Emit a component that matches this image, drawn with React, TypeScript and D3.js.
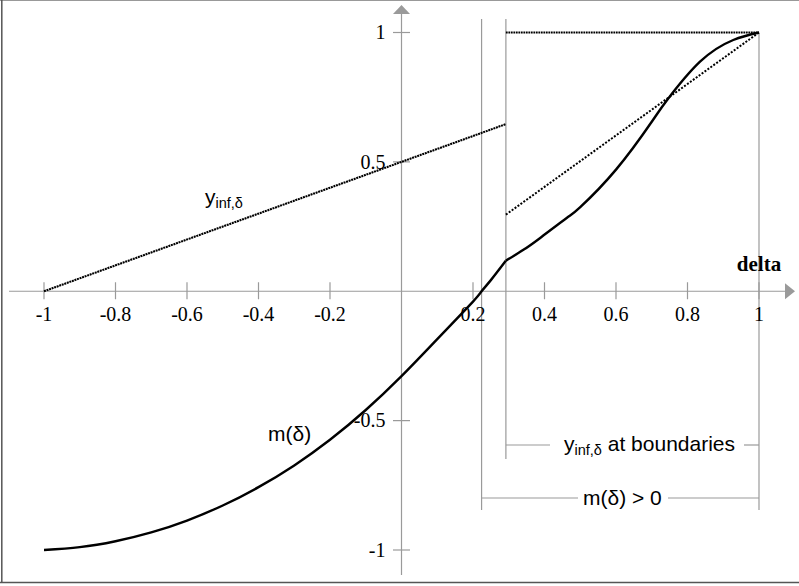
import React from "react";
import * as d3 from "d3";

// m(delta) curve, left part (up to the boundary kink) and right part
const mLeftDelta = [-1, -0.9, -0.8, -0.7, -0.6, -0.5, -0.4, -0.3, -0.2, -0.1, 0, 0.1, 0.2, 0.224, 0.25, 0.292];
const mLeftValue = [-1, -0.989, -0.966, -0.932, -0.886, -0.828, -0.757, -0.673, -0.574, -0.459, -0.328, -0.185, -0.04, 0, 0.043, 0.118];
const mRightDelta = [0.292, 0.341, 0.387, 0.462, 0.5, 0.6, 0.7, 0.742, 0.835, 0.928, 1];
const mRightValue = [0.118, 0.16, 0.205, 0.283, 0.325, 0.47, 0.655, 0.737, 0.887, 0.971, 1];

// y_inf,delta segments
const yInfLeftDelta = [-1, 0.292];
const yInfLeftValue = [0, 0.646];
const yInfRightDelta = [0.292, 1];
const yInfRightValue = [0.296, 1];
const yInfTopDelta = [0.292, 1];
const yInfTopValue = [1, 1];

// axes
const xTickValues = [-1, -0.8, -0.6, -0.4, -0.2, 0.2, 0.4, 0.6, 0.8, 1];
const xTickLabels = ["-1", "-0.8", "-0.6", "-0.4", "-0.2", "0.2", "0.4", "0.6", "0.8", "1"];
const yTickValues = [-1, -0.5, 0.5, 1];
const yTickLabels = ["-1", "-0.5", "0.5", "1"];

// special deltas
const mZeroDelta = 0.224;
const boundaryDelta = 0.292;
const endDelta = 1;

const W = 799;
const H = 586;
const AXIS = "#9a9a9a";
const SERIF = "'Liberation Serif', 'Times New Roman', serif";
const SANS = "'Liberation Sans', Arial, sans-serif";

export default function App() {
  const x = d3.scaleLinear().domain([-1, 1]).range([44, 759]);
  const y = d3.scaleLinear().domain([-1, 1]).range([550, 32.5]);
  const x0 = x(0);
  const y0 = y(0);

  const line = d3
    .line<[number, number]>()
    .x((d) => x(d[0]))
    .y((d) => y(d[1]))
    .curve(d3.curveNatural);
  const straight = d3
    .line<[number, number]>()
    .x((d) => x(d[0]))
    .y((d) => y(d[1]));

  const zip = (a: number[], b: number[]) => a.map((v, i) => [v, b[i]] as [number, number]);

  const xm = x(mZeroDelta);
  const xb = x(boundaryDelta);
  const xe = x(endDelta);

  const yBracket1 = 445;
  const yBracket2 = 498;

  return (
    <svg
      width={W}
      height={H}
      style={{ position: "absolute", left: 0, top: 0, background: "#fff" }}
    >
      {/* frame */}
      <line x1={0} x2={W} y1={0.5} y2={0.5} stroke="#999" strokeWidth={1} />
      <line x1={1.8} x2={1.8} y1={0} y2={583} stroke="#555" strokeWidth={1.5} />
      <line x1={0} x2={W} y1={582.5} y2={582.5} stroke="#555" strokeWidth={1.5} />

      {/* guide verticals */}
      <line x1={xm} x2={xm} y1={19} y2={510} stroke={AXIS} strokeWidth={1.2} />
      <line x1={xb} x2={xb} y1={19} y2={459} stroke={AXIS} strokeWidth={1.2} />
      <line x1={xe} x2={xe} y1={y(1)} y2={510} stroke={AXIS} strokeWidth={1.2} />

      {/* x axis */}
      <line x1={9} x2={786} y1={y0} y2={y0} stroke={AXIS} strokeWidth={1.2} />
      <path d={`M${785},${y0 - 8}L${795},${y0}L${785},${y0 + 8}Z`} fill={AXIS} />
      {xTickValues.map((v, i) => (
        <g key={"xt" + i}>
          <line x1={x(v)} x2={x(v)} y1={y0 - 9} y2={y0 + 8} stroke={AXIS} strokeWidth={1.2} />
          <text
            x={x(v)}
            y={y0 + 30}
            textAnchor="middle"
            fontFamily={SERIF}
            fontSize={20}
            fill="#000"
          >
            {xTickLabels[i]}
          </text>
        </g>
      ))}

      {/* y axis */}
      <line x1={x0} x2={x0} y1={13} y2={575} stroke={AXIS} strokeWidth={1.2} />
      <path d={`M${x0 - 8.5},${14}L${x0},${5}L${x0 + 8.5},${14}Z`} fill={AXIS} />
      {yTickValues.map((v, i) => (
        <g key={"yt" + i}>
          <line x1={x0 - 8.5} x2={x0 + 8.5} y1={y(v)} y2={y(v)} stroke={AXIS} strokeWidth={1.2} />
          <text
            x={x0 - 16}
            y={y(v) + 6.8}
            textAnchor="end"
            fontFamily={SERIF}
            fontSize={20}
            fill="#000"
          >
            {yTickLabels[i]}
          </text>
        </g>
      ))}

      <text
        x={x(1)}
        y={271}
        textAnchor="middle"
        fontFamily={SERIF}
        fontWeight="bold"
        fontSize={21}
        fill="#000"
      >
        delta
      </text>

      {/* y_inf dotted lines */}
      <path
        d={straight(zip(yInfLeftDelta, yInfLeftValue)) || ""}
        fill="none"
        stroke="#000"
        strokeWidth={2.1}
        strokeDasharray="2,0.7"
      />
      <path
        d={straight(zip(yInfRightDelta, yInfRightValue)) || ""}
        fill="none"
        stroke="#000"
        strokeWidth={2}
        strokeDasharray="2,1.6"
      />
      <path
        d={straight(zip(yInfTopDelta, yInfTopValue)) || ""}
        fill="none"
        stroke="#000"
        strokeWidth={2}
        strokeDasharray="1.8,0.7"
      />

      {/* m(delta) */}
      <path
        d={line(zip(mLeftDelta, mLeftValue)) || ""}
        fill="none"
        stroke="#000"
        strokeWidth={2.4}
      />
      <path
        d={line(zip(mRightDelta, mRightValue)) || ""}
        fill="none"
        stroke="#000"
        strokeWidth={2.4}
      />

      {/* curve labels */}
      <text x={205} y={204} fontFamily={SANS} fontSize={21} fill="#000">
        y<tspan fontSize={14.5} dy={4}>inf,δ</tspan>
      </text>
      <text x={268} y={441} fontFamily={SANS} fontSize={21} fill="#000">
        m(δ)
      </text>

      {/* bracket: y_inf at boundaries */}
      <line x1={xb} x2={550} y1={yBracket1} y2={yBracket1} stroke={AXIS} strokeWidth={1.2} />
      <line x1={744} x2={xe} y1={yBracket1} y2={yBracket1} stroke={AXIS} strokeWidth={1.2} />
      <text x={564} y={451} fontFamily={SANS} fontSize={21} fill="#000">
        y<tspan fontSize={14.5} dy={4}>inf,δ</tspan>
        <tspan dy={-4}> at boundaries</tspan>
      </text>

      {/* bracket: m > 0 */}
      <line x1={xm} x2={578} y1={yBracket2} y2={yBracket2} stroke={AXIS} strokeWidth={1.2} />
      <line x1={668} x2={xe} y1={yBracket2} y2={yBracket2} stroke={AXIS} strokeWidth={1.2} />
      <text x={583} y={505} fontFamily={SANS} fontSize={21} fill="#000">
        m(δ) &gt; 0
      </text>
    </svg>
  );
}
